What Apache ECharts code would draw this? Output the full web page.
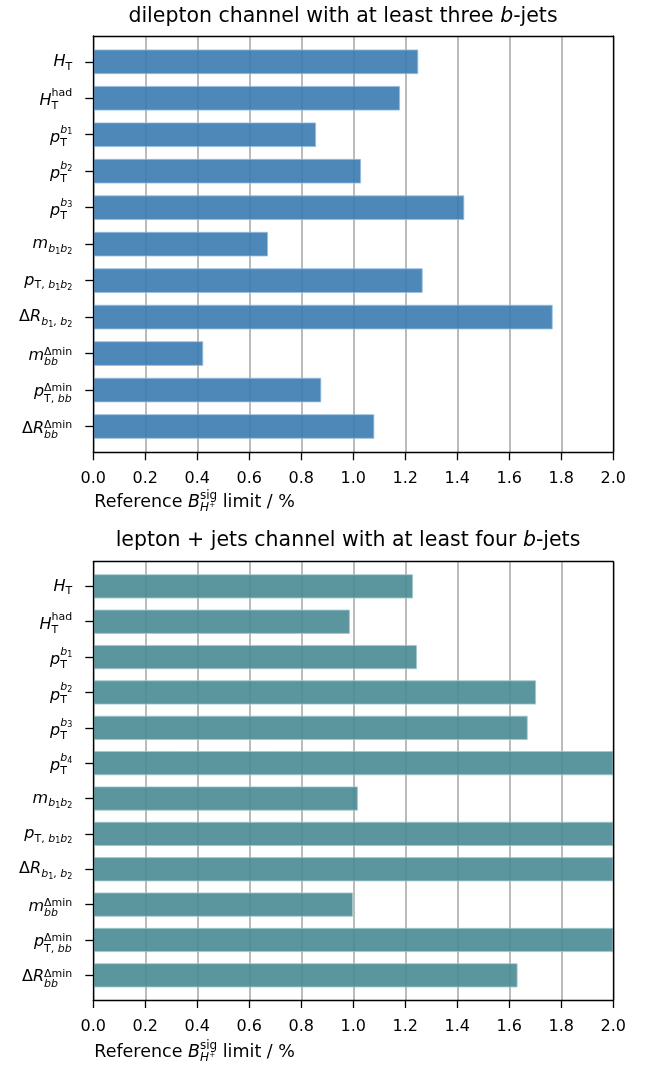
<!DOCTYPE html>
<html>
<head>
<meta charset="utf-8">
<title>reference limits</title>
<script src="https://cdn.jsdelivr.net/npm/echarts@6.0.0/dist/echarts.min.js"></script>
<style>
  body { margin: 0; background: #fff; }
  #main { width: 647px; height: 1065px; }
</style>
</head>
<body>
<div id="main"></div>
<script>
// reference B(sig) limit in % (bars past 2.0 are cut at the frame)
const dilepCats = ['HT', 'HThad', 'pTb1', 'pTb2', 'pTb3', 'mb1b2', 'pTb1b2', 'dRb1b2', 'mbbMin', 'pTbbMin', 'dRbbMin']
const dilepLimit = [1.25, 1.18, 0.857, 1.03, 1.427, 0.672, 1.267, 1.767, 0.423, 0.877, 1.081]

const ljetsCats = ['HT', 'HThad', 'pTb1', 'pTb2', 'pTb3', 'pTb4', 'mb1b2', 'pTb1b2', 'dRb1b2', 'mbbMin', 'pTbbMin', 'dRbbMin']
const ljetsLimit = [1.23, 0.987, 1.245, 1.703, 1.671, 2.0, 1.018, 2.0, 2.0, 0.999, 2.0, 1.632]

const xMin = 0
const xMax = 2
const xStep = 0.2

const panelTitles = [
  ['dilepton channel with at least three ', 'b', '-jets'],
  ['lepton + jets channel with at least four ', 'b', '-jets']
]

// label pieces as [font, text]: i = italic, r = upright, d = small digit
const labelTex = {
  HT: { base: [['i', 'H']], sub: [['r', 'T']], sup: [] },
  HThad: { base: [['i', 'H']], sub: [['r', 'T']], sup: [['r', 'had']] },
  pTb1: { base: [['i', 'p']], sub: [['r', 'T']], sup: [['i', 'b'], ['d', '1']] },
  pTb2: { base: [['i', 'p']], sub: [['r', 'T']], sup: [['i', 'b'], ['d', '2']] },
  pTb3: { base: [['i', 'p']], sub: [['r', 'T']], sup: [['i', 'b'], ['d', '3']] },
  pTb4: { base: [['i', 'p']], sub: [['r', 'T']], sup: [['i', 'b'], ['d', '4']] },
  mb1b2: { base: [['i', 'm']], sub: [['i', 'b'], ['d', '1'], ['i', 'b'], ['d', '2']], sup: [] },
  pTb1b2: { base: [['i', 'p']], sub: [['r', 'T, '], ['i', 'b'], ['d', '1'], ['i', 'b'], ['d', '2']], sup: [] },
  dRb1b2: { base: [['r', 'Δ'], ['i', 'R']], sub: [['i', 'b'], ['d', '1'], ['r', ', '], ['i', 'b'], ['d', '2']], sup: [] },
  mbbMin: { base: [['i', 'm']], sub: [['i', 'bb']], sup: [['r', 'Δmin']] },
  pTbbMin: { base: [['i', 'p']], sub: [['r', 'T, '], ['i', 'bb']], sup: [['r', 'Δmin']] },
  dRbbMin: { base: [['r', 'Δ'], ['i', 'R']], sub: [['i', 'bb']], sup: [['r', 'Δmin']] }
}
const labelKind = {
  HT: 'plain', HThad: 'up', pTb1: 'up', pTb2: 'up', pTb3: 'up', pTb4: 'up',
  mb1b2: 'plain', pTb1b2: 'plain', dRb1b2: 'plain', mbbMin: 'min', pTbbMin: 'min', dRbbMin: 'min'
}
// vertical shift (px) of base / sub / sup
const kindShift = { plain: [0, 5, 0], up: [3, 8, -5], min: [2, 9, -1.5] }

const FONT = 'DejaVu Sans'
const L = 93.3
const W = 520

const panels = [
  { cats: dilepCats, values: dilepLimit, color: 'rgba(59,123,177,0.9)', edge: 'rgba(150,190,225,0.8)', top: 36, height: 416.3, band: 36.47, barW: 24.7, titleX: 343, titleY: 16.5, xlabY: 502.5 },
  { cats: ljetsCats, values: ljetsLimit, color: 'rgba(73,137,147,0.9)', edge: 'rgba(160,200,205,0.8)', top: 561.7, height: 438.3, band: 35.36, barW: 24.3, titleX: 348, titleY: 540.5, xlabY: 1052.5 }
]

const ctx = document.createElement('canvas').getContext('2d')
function tokWidth (toks, size) {
  let w = 0
  toks.forEach(([f, s]) => {
    ctx.font = (f === 'i' ? 'italic ' : '') + (f === 'd' ? 8 : size) + 'px "' + FONT + '"'
    w += ctx.measureText(s).width
  })
  return w
}
const vpad = s => s >= 0 ? [2 * s, 0, 0, 0] : [0, 0, -2 * s, 0]

function axisRich (cats) {
  const rich = {}
  Object.keys(kindShift).forEach(k => {
    const [b, s, u] = kindShift[k]
    ;['i', 'r'].forEach(f => {
      const st = f === 'i' ? 'italic' : 'normal'
      rich['b' + f + k] = { fontFamily: FONT, fontSize: 16, fontStyle: st, color: '#000', padding: vpad(b) }
      rich['s' + f + k] = { fontFamily: FONT, fontSize: 11, fontStyle: st, color: '#000', padding: vpad(s) }
      rich['u' + f + k] = { fontFamily: FONT, fontSize: 11, fontStyle: st, color: '#000', padding: vpad(u) }
    })
    rich['sd' + k] = { fontFamily: FONT, fontSize: 8, color: '#000', padding: vpad(s + 2.5) }
    rich['ud' + k] = { fontFamily: FONT, fontSize: 8, color: '#000', padding: vpad(u + 2.5) }
  })
  cats.forEach(c => {
    const t = labelTex[c]
    if (t.sup.length) {
      rich['pad' + c] = { fontFamily: FONT, fontSize: 11, width: Math.max(0, tokWidth(t.sup, 11) - tokWidth(t.sub, 11)) }
    }
  })
  return rich
}

function mainLabel (c) {
  const t = labelTex[c]
  const k = labelKind[c]
  let s = t.base.map(([f, x]) => '{b' + f + k + '|' + x + '}').join('')
  s += t.sub.map(([f, x]) => '{s' + f + k + '|' + x + '}').join('')
  if (t.sup.length) s += '{pad' + c + '| }'
  return s
}
function supLabel (c) {
  const t = labelTex[c]
  const k = labelKind[c]
  return t.sup.map(([f, x]) => '{u' + f + k + '|' + x + '}').join('')
}

// x label pieces: B with sub H+ and sup sig stacked
const xlabSubW = Math.max(tokWidth([['i', 'H⁺']], 12), tokWidth([['r', 'sig']], 12))
const xlabRich = {
  n: { font: '17.5px "' + FONT + '"', fill: '#000' },
  i: { font: 'italic 17.5px "' + FONT + '"', fill: '#000' },
  s: { font: 'italic 12px "' + FONT + '"', fill: '#000', padding: [11, 0, 0, 0], width: xlabSubW },
  gn: { font: '17.5px "' + FONT + '"', fill: 'rgba(0,0,0,0)' },
  gi: { font: 'italic 17.5px "' + FONT + '"', fill: 'rgba(0,0,0,0)' },
  p: { font: '12px "' + FONT + '"', fill: '#000', padding: [0, 0, 13, 0] }
}

const option = { animation: false, grid: [], xAxis: [], yAxis: [], series: [], graphic: [] }
const hidden = { axisTick: { show: false }, axisLabel: { show: false }, splitLine: { show: false } }
const spine = { show: true, onZero: false, lineStyle: { color: '#000', width: 1.3 } }

panels.forEach((p, n) => {
  const n2 = n * 2
  const innerH = p.band * p.cats.length
  const innerTop = p.top + (p.height - innerH) / 2
  option.grid.push(
    { left: L, top: p.top, width: W, height: p.height, containLabel: false, outerBoundsMode: 'none' },
    { left: L, top: innerTop, width: W, height: innerH, containLabel: false, outerBoundsMode: 'none' }
  )
  option.xAxis.push(
    {
      gridIndex: n2, type: 'value', position: 'bottom', min: xMin, max: xMax, interval: xStep,
      axisLine: spine,
      axisTick: { show: true, length: 8, lineStyle: { color: '#000', width: 1.3 } },
      axisLabel: { margin: 19, color: '#000', fontFamily: FONT, fontSize: 16, formatter: v => v.toFixed(1) },
      splitLine: { show: true, lineStyle: { color: '#aaaaaa', width: 1.6 } }
    },
    { gridIndex: n2, type: 'value', position: 'top', min: xMin, max: xMax, z: 5, ...hidden, axisLine: spine },
    { gridIndex: n2 + 1, type: 'value', min: xMin, max: xMax, show: false }
  )
  option.yAxis.push(
    { gridIndex: n2, type: 'value', position: 'left', min: 0, max: 1, z: 5, ...hidden, axisLine: spine },
    { gridIndex: n2, type: 'value', position: 'right', min: 0, max: 1, z: 5, ...hidden, axisLine: spine },
    {
      gridIndex: n2 + 1, type: 'category', position: 'left', inverse: true, data: p.cats,
      axisLine: { show: false },
      axisTick: { show: true, alignWithLabel: true, length: 8, lineStyle: { color: '#000', width: 1.3 } },
      axisLabel: { interval: 0, margin: 21, formatter: mainLabel, rich: axisRich(p.cats) },
      splitLine: { show: false }
    },
    {
      gridIndex: n2 + 1, type: 'category', position: 'left', inverse: true, data: p.cats,
      axisLine: { show: false }, axisTick: { show: false }, splitLine: { show: false },
      axisLabel: { interval: 0, margin: 21, formatter: supLabel, rich: axisRich(p.cats) }
    }
  )
  option.series.push({
    type: 'bar',
    xAxisIndex: n * 3 + 2,
    yAxisIndex: n * 4 + 2,
    data: p.values,
    barWidth: p.barW,
    silent: true,
    itemStyle: { color: p.color, borderColor: p.edge, borderWidth: 1 }
  })
  const t = panelTitles[n]
  option.graphic.push(
    {
      type: 'text', x: p.titleX, y: p.titleY,
      style: {
        text: '{t|' + t[0] + '}{ti|' + t[1] + '}{t|' + t[2] + '}',
        rich: {
          t: { font: '20.5px "' + FONT + '"', fill: '#000' },
          ti: { font: 'italic 20.5px "' + FONT + '"', fill: '#000' }
        },
        align: 'center',
        verticalAlign: 'middle'
      }
    },
    {
      type: 'text', x: L + 1, y: p.xlabY,
      style: { text: '{n|Reference }{i|B}{s|H⁺}{n| limit / %}', rich: xlabRich, align: 'left', verticalAlign: 'middle' }
    },
    {
      type: 'text', x: L + 1, y: p.xlabY,
      style: { text: '{gn|Reference }{gi|B}{p|sig}', rich: xlabRich, align: 'left', verticalAlign: 'middle' }
    }
  )
})

const myChart = echarts.init(document.getElementById('main'))
myChart.setOption(option)
window.addEventListener('resize', () => {
  myChart.resize()
})
</script>
</body>
</html>
